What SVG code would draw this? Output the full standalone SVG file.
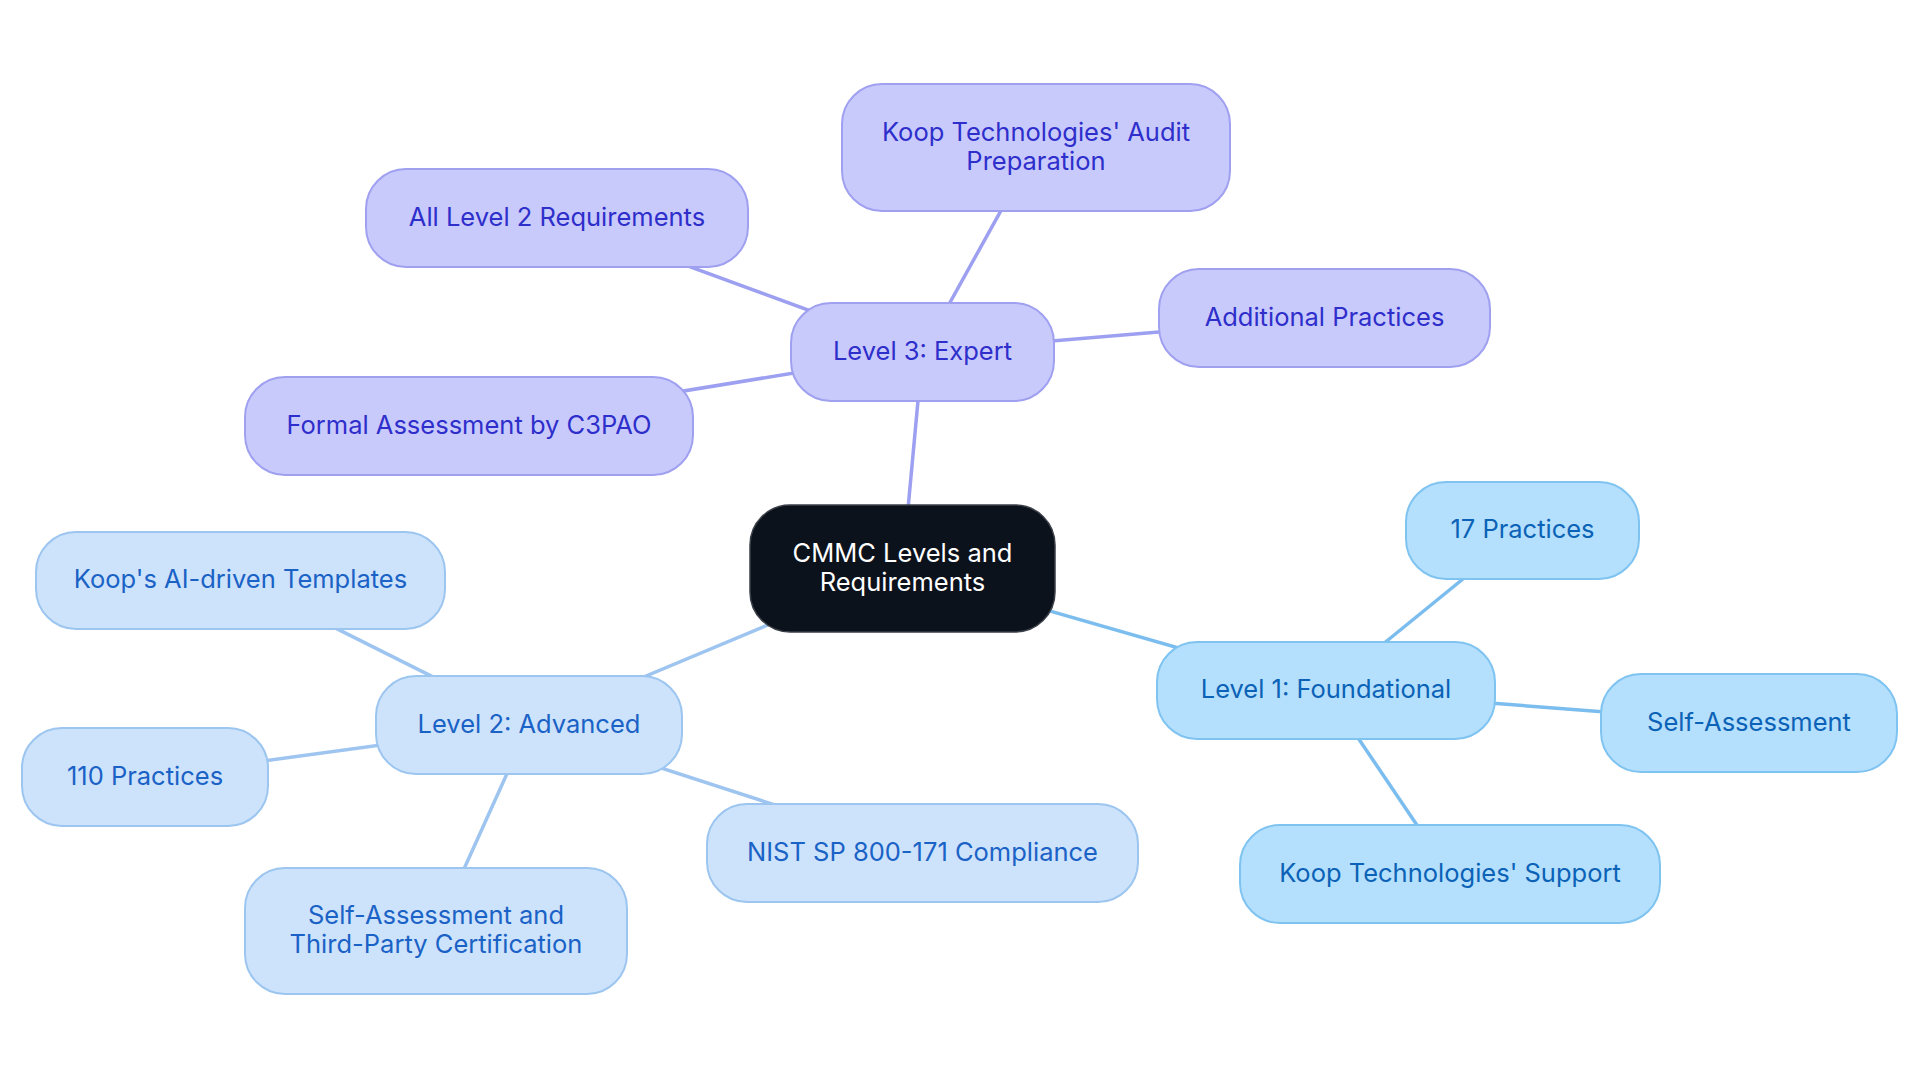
<svg xmlns="http://www.w3.org/2000/svg" width="1920" height="1083" viewBox="0 0 1920 1083">
<style>
text{font-family:Inter,"Noto Sans","Liberation Sans",sans-serif;font-size:25.5px;text-anchor:middle}
.c0 rect{fill:#0c121c;stroke:#3a3f47;stroke-width:1.5}
.c0 text{fill:#ffffff}
.b1 rect{fill:#b4e0fd;stroke:#7fc3f1;stroke-width:2}
.b1 text{fill:#0b62b6}
.b2 rect{fill:#cde3fb;stroke:#9cc5ef;stroke-width:2}
.b2 text{fill:#1a62c6}
.b3 rect{fill:#c9cafc;stroke:#9fa0f0;stroke-width:2}
.b3 text{fill:#2e2ecb}
.e1{stroke:#7bbdee;stroke-width:3.5}
.e2{stroke:#9ec4f0;stroke-width:3.5}
.e3{stroke:#9d9ff0;stroke-width:3.5}
</style>
<rect width="1920" height="1083" fill="#ffffff"/>
<g id="connectors" fill="none">
<line class="e1" x1="902.5" y1="568.5" x2="1326" y2="690.5"/>
<line class="e1" x1="1326" y1="690.5" x2="1522.5" y2="530.5"/>
<line class="e1" x1="1326" y1="690.5" x2="1749" y2="723"/>
<line class="e1" x1="1326" y1="690.5" x2="1450" y2="874"/>
<line class="e2" x1="902.5" y1="568.5" x2="529" y2="725"/>
<line class="e2" x1="529" y1="725" x2="240.5" y2="580.5"/>
<line class="e2" x1="529" y1="725" x2="145" y2="777"/>
<line class="e2" x1="529" y1="725" x2="436" y2="931"/>
<line class="e2" x1="529" y1="725" x2="922.5" y2="853"/>
<line class="e3" x1="902.5" y1="568.5" x2="922.5" y2="352"/>
<line class="e3" x1="922.5" y1="352" x2="1036" y2="147.5"/>
<line class="e3" x1="922.5" y1="352" x2="557" y2="218"/>
<line class="e3" x1="922.5" y1="352" x2="1324.5" y2="318"/>
<line class="e3" x1="922.5" y1="352" x2="469" y2="426"/>
</g>
<g id="center" class="c0"><rect x="750" y="505" width="305" height="127" rx="40"/><text x="902.5" y="561.5">CMMC Levels and</text><text x="902.5" y="590.5">Requirements</text></g>
<g id="level1" class="b1"><rect x="1157" y="642" width="338" height="97" rx="40"/><text x="1326" y="698">Level 1: Foundational</text></g>
<g id="l1-practices" class="b1"><rect x="1406" y="482" width="233" height="97" rx="40"/><text x="1522.5" y="538">17 Practices</text></g>
<g id="l1-self" class="b1"><rect x="1601" y="674" width="296" height="98" rx="40"/><text x="1749" y="730.5">Self-Assessment</text></g>
<g id="l1-support" class="b1"><rect x="1240" y="825" width="420" height="98" rx="40"/><text x="1450" y="881.5">Koop Technologies' Support</text></g>
<g id="level2" class="b2"><rect x="376" y="676" width="306" height="98" rx="40"/><text x="529" y="732.5">Level 2: Advanced</text></g>
<g id="l2-templates" class="b2"><rect x="36" y="532" width="409" height="97" rx="40"/><text x="240.5" y="588">Koop's AI-driven Templates</text></g>
<g id="l2-practices" class="b2"><rect x="22" y="728" width="246" height="98" rx="40"/><text x="145" y="784.5">110 Practices</text></g>
<g id="l2-cert" class="b2"><rect x="245" y="868" width="382" height="126" rx="40"/><text x="436" y="924">Self-Assessment and</text><text x="436" y="953">Third-Party Certification</text></g>
<g id="l2-nist" class="b2"><rect x="707" y="804" width="431" height="98" rx="40"/><text x="922.5" y="860.5">NIST SP 800-171 Compliance</text></g>
<g id="level3" class="b3"><rect x="791" y="303" width="263" height="98" rx="40"/><text x="922.5" y="359.5">Level 3: Expert</text></g>
<g id="l3-audit" class="b3"><rect x="842" y="84" width="388" height="127" rx="40"/><text x="1036" y="140.5">Koop Technologies' Audit</text><text x="1036" y="169.5">Preparation</text></g>
<g id="l3-all" class="b3"><rect x="366" y="169" width="382" height="98" rx="40"/><text x="557" y="225.5">All Level 2 Requirements</text></g>
<g id="l3-additional" class="b3"><rect x="1159" y="269" width="331" height="98" rx="40"/><text x="1324.5" y="325.5">Additional Practices</text></g>
<g id="l3-formal" class="b3"><rect x="245" y="377" width="448" height="98" rx="40"/><text x="469" y="433.5">Formal Assessment by C3PAO</text></g>
</svg>
